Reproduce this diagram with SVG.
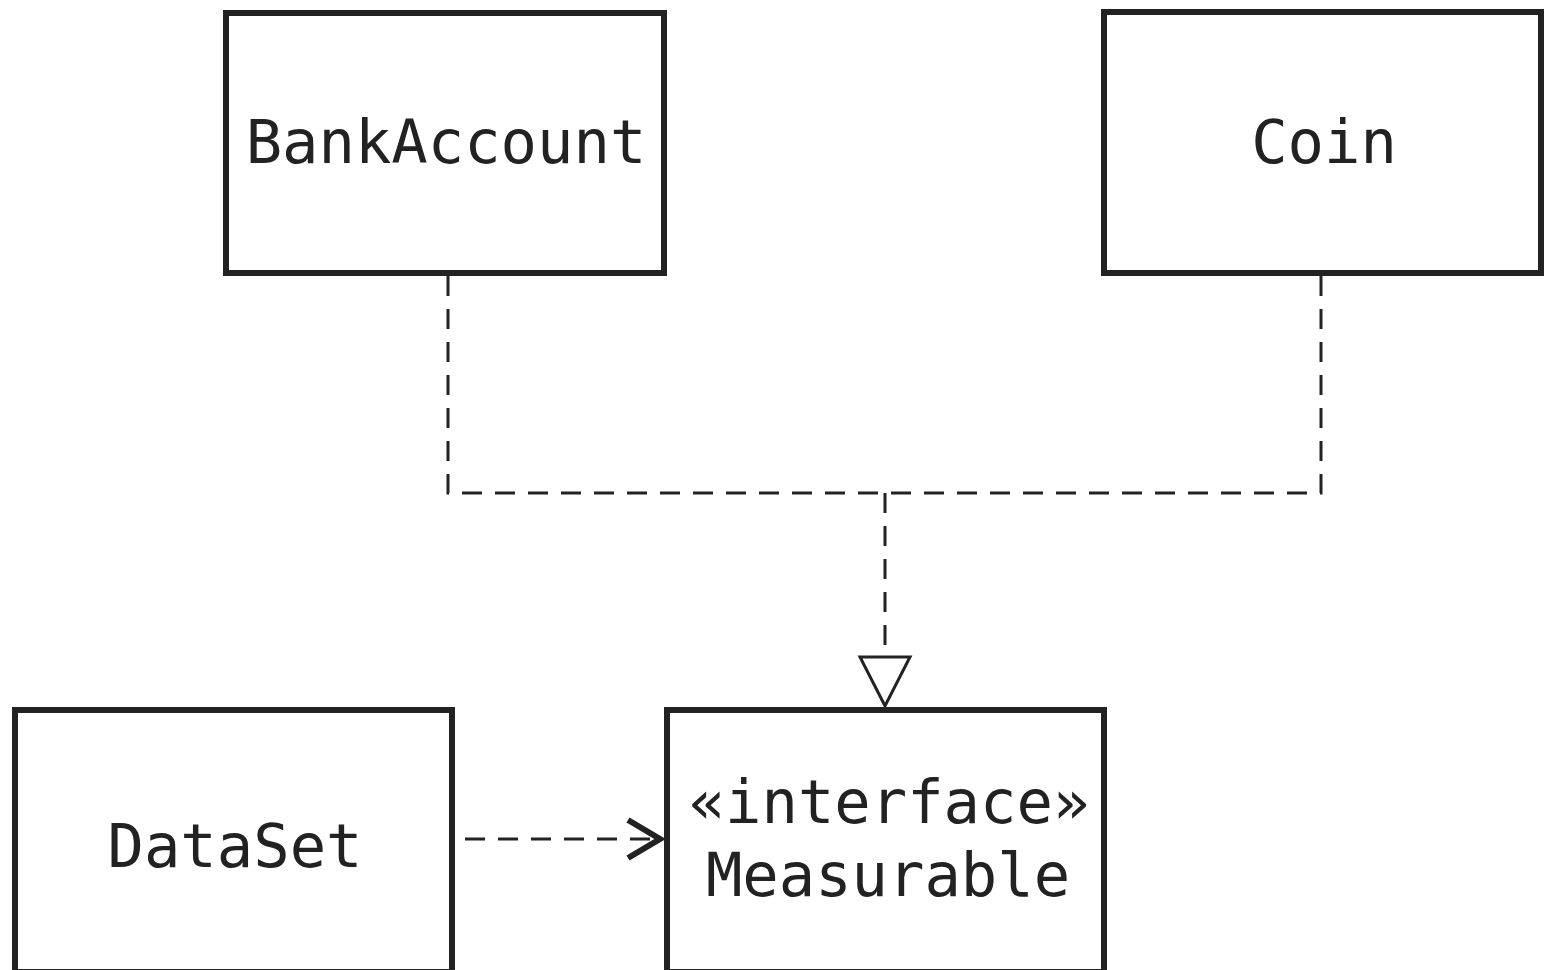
<svg xmlns="http://www.w3.org/2000/svg" width="1547" height="970" viewBox="0 0 1547 970">
<style>
.box{fill:#fff;stroke:#222;stroke-width:6}
.lbl{font-family:"DejaVu Sans Mono","Liberation Mono",monospace;font-size:60.5px;fill:#222;text-anchor:middle}
.dash{fill:none;stroke:#222;stroke-width:3;stroke-dasharray:20 13}
</style>
<rect width="1547" height="970" fill="#fff"/>
<g id="connectors">
<path class="dash" d="M448,276 V493 H1321 V276"/>
<path class="dash" d="M885,493 V657"/>
<polygon points="860,657 910,657 885,706" fill="#fff" stroke="#222" stroke-width="3" stroke-linejoin="miter"/>
<path class="dash" d="M465,839 H658"/>
<polyline points="628,820 660,839 628,858" fill="none" stroke="#222" stroke-width="6"/>
</g>
<g id="BankAccount">
<rect class="box" x="226" y="13" width="438" height="260"/>
<text class="lbl" x="446" y="163">BankAccount</text>
</g>
<g id="Coin">
<rect class="box" x="1104" y="12" width="437" height="261"/>
<text class="lbl" x="1324" y="163">Coin</text>
</g>
<g id="DataSet">
<rect class="box" x="15" y="710" width="437" height="262"/>
<text class="lbl" x="235" y="867">DataSet</text>
</g>
<g id="Measurable">
<rect class="box" x="667" y="710" width="437" height="262"/>
<text class="lbl" x="889" y="823">«interface»</text>
<text class="lbl" x="888" y="896">Measurable</text>
</g>
</svg>
